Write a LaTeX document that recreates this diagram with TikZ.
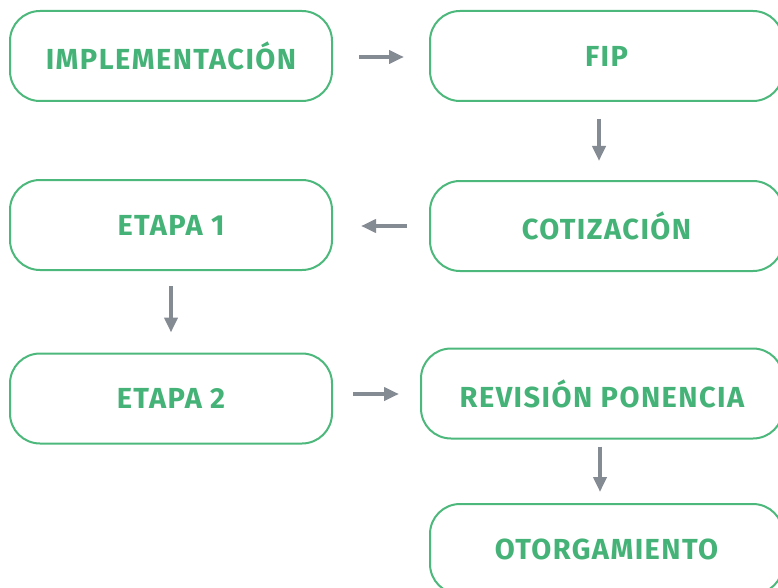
\documentclass[tikz,border=0pt]{standalone}
\usepackage{fontspec}
\setmainfont{Fira Sans}
\newfontfamily\boxfont[LetterSpace=5]{Fira Sans}
\usetikzlibrary{arrows.meta}
\definecolor{boxgreen}{HTML}{4DB87C}
\definecolor{txtgreen}{HTML}{45B377}
\definecolor{arrgray}{HTML}{858B93}
\tikzset{
  stepbox/.style={draw=boxgreen, line width=2pt, rounded corners=30pt, fill=white,
    text=txtgreen, font=\boxfont\bfseries\fontsize{29}{31}\selectfont, inner sep=0pt,
    minimum height=90pt},
  flowarrow/.style={draw=arrgray, line width=4pt, -{Triangle[length=15pt,width=13pt]}}
}
\begin{document}
\begin{tikzpicture}[x=1pt,y=-1pt]
\useasboundingbox (0,0) rectangle (778,588);
\clip (0,0) rectangle (778,588);
\node[stepbox, minimum width=322pt] (impl) at (171,56) {IMPLEMENTACIÓN};
\node[stepbox, minimum width=353pt] (fip) at (606.5,56) {FIP};
\node[stepbox, minimum width=353pt] (cot) at (606.5,226) {COTIZACIÓN};
\node[stepbox, minimum width=322pt] (e1) at (171,225) {ETAPA 1};
\node[stepbox, minimum width=322pt] (e2) at (171,398.5) {ETAPA 2};
\node[stepbox, minimum width=362pt] (rev) at (602,393.5) {REVISIÓN PONENCIA};
\node[stepbox, minimum width=353pt] (oto) at (606.5,549) {OTORGAMIENTO};
\draw[flowarrow, shorten <=26pt, shorten >=25pt] (impl.east |- 0,57) -- (fip.west |- 0,57);
\draw[flowarrow, shorten <=17pt, shorten >=19pt] ([xshift=-7.5pt]fip.south) -- ([xshift=-7.5pt]cot.north);
\draw[flowarrow, shorten <=22pt, shorten >=28pt] (cot.west |- 0,226) -- (e1.east |- 0,226);
\draw[flowarrow, shorten <=15pt, shorten >=20pt] (e1.south) -- (e2.north);
\draw[flowarrow, shorten <=20pt, shorten >=21pt] (e2.east |- 0,394) -- (rev.west |- 0,394);
\draw[flowarrow, shorten <=7pt, shorten >=11pt] ([xshift=-2pt]rev.south) -- ([xshift=-6.5pt]oto.north);
\end{tikzpicture}
\end{document}
